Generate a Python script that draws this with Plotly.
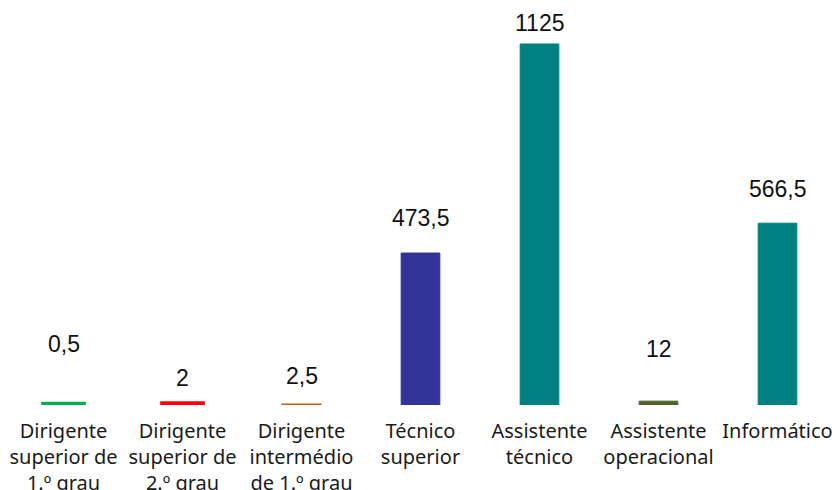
import plotly.graph_objects as go

# Categories (wrapped for tick labels) and their values
categories = [
    "Dirigente<br>superior de<br>1.º grau",
    "Dirigente<br>superior de<br>2.º grau",
    "Dirigente<br>intermédio<br>de 1.º grau",
    "Técnico<br>superior",
    "Assistente<br>técnico",
    "Assistente<br>operacional",
    "Informático",
]
values = [0.5, 2, 2.5, 473.5, 1125, 12, 566.5]
value_labels = ["0,5", "2", "2,5", "473,5", "1125", "12", "566,5"]

# Styling per bar
bar_colors = ["#00B050", "#FF0000", "#C55A11", "#333399", "#008080", "#4F6228", "#008080"]
outline_widths = [6, 6, 1.5, 1, 1, 1, 1]
label_offsets = [61, 26, 28, 35, 21, 52, 34]  # pixels above each bar's value

fig = go.Figure(
    go.Bar(
        x=categories,
        y=values,
        width=0.325,
        marker=dict(
            color=bar_colors,
            line=dict(color=bar_colors, width=outline_widths),
        ),
        hoverinfo="skip",
    )
)

for cat, val, txt, off in zip(categories, values, value_labels, label_offsets):
    fig.add_annotation(
        x=cat, y=val, text=txt, showarrow=False,
        yanchor="middle", yshift=off,
        font=dict(family="Liberation Sans, Arial", size=23, color="#111111"),
    )

fig.update_layout(
    width=839, height=490,
    margin=dict(l=4, r=2, t=0, b=85),
    paper_bgcolor="white", plot_bgcolor="white",
    showlegend=False,
    xaxis=dict(
        showgrid=False, zeroline=False, showline=False, ticks="",
        tickfont=dict(family="Noto Sans", size=20, color="#1a1a1a"),
        tickangle=0, ticklabelstandoff=12, automargin=False,
    ),
    yaxis=dict(
        range=[0, 1262], visible=False, showgrid=False, zeroline=False,
        automargin=False,
    ),
)

fig.write_html("out.html")
